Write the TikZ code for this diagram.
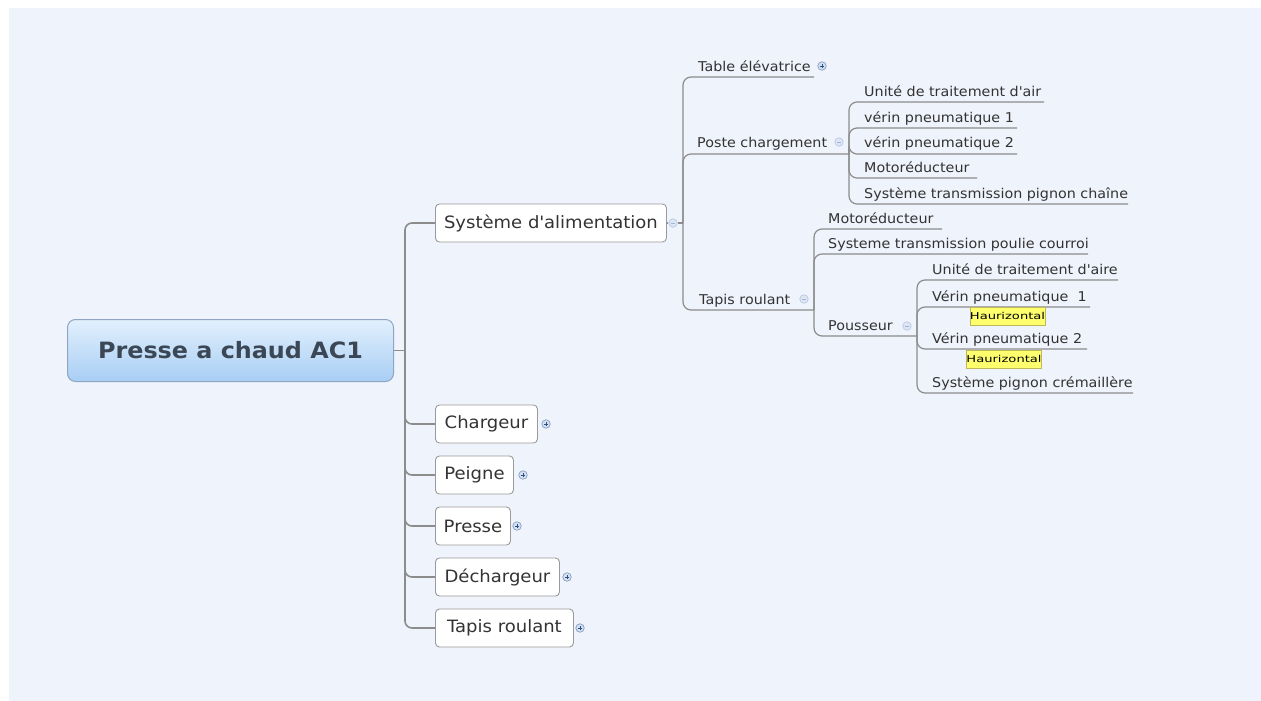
\documentclass[tikz,border=0pt]{standalone}
\usepackage{fontspec}
\setmainfont[FakeStretch=1.06]{DejaVu Sans}
\definecolor{pagebg}{HTML}{EFF3FB}
\definecolor{txt}{HTML}{333333}
\definecolor{roottxt}{HTML}{3C4756}
\definecolor{rootedge}{HTML}{8EA6C2}
\definecolor{roottop}{HTML}{E2F0FD}
\definecolor{rootbot}{HTML}{A8CEF4}
\definecolor{boxedge}{HTML}{9A9A9A}
\definecolor{linegray}{HTML}{8C8C8C}
\definecolor{iconfill}{HTML}{D3E0F2}
\definecolor{iconedge}{HTML}{7D96BA}
\definecolor{iconmark}{HTML}{2F4F7F}
\definecolor{minfill}{HTML}{DCE6F5}
\definecolor{minedge}{HTML}{B4C6E0}
\definecolor{minmark}{HTML}{9FB4D6}
\definecolor{notefill}{HTML}{FFFF6E}
\definecolor{noteedge}{HTML}{BDB85A}
\newcommand{\notetext}[1]{\scalebox{1.3}[1]{#1}}
\begin{document}
\begin{tikzpicture}[x=1pt,y=-1pt,
  rootbox/.style={draw=rootedge, line width=1pt, rounded corners=8pt,
    top color=roottop, bottom color=rootbot, minimum width=326pt, minimum height=62pt,
    font=\fontsize{22.5}{26}\selectfont\bfseries, text=roottxt},
  topic/.style={draw=boxedge, fill=white, line width=0.9pt, rounded corners=4pt,
    minimum height=38pt, inner xsep=6pt, anchor=west,
    font=\fontsize{17}{20}\selectfont, text=txt},
  leaf/.style={anchor=base west, inner sep=0pt, font=\fontsize{13.5}{16}\selectfont, text=txt},
  note/.style={draw=noteedge, fill=notefill, line width=0.6pt, minimum width=75pt,
    minimum height=18pt, inner sep=0pt, font=\fontsize{9.5}{11}\selectfont, text=black},
  trunk/.style={draw=linegray, line width=1.6pt, rounded corners=7pt},
  conn/.style={draw=linegray, line width=1.2pt, rounded corners=8pt},
  plusicon/.style={circle, draw=iconedge, fill=iconfill, line width=0.6pt,
    minimum size=8.5pt, inner sep=0pt,
    path picture={\draw[iconmark, line width=0.8pt]
      ([xshift=-2.2pt]path picture bounding box.center) -- ([xshift=2.2pt]path picture bounding box.center)
      ([yshift=-2.2pt]path picture bounding box.center) -- ([yshift=2.2pt]path picture bounding box.center);}},
  minusicon/.style={circle, draw=minedge, fill=minfill, line width=0.6pt,
    minimum size=8.5pt, inner sep=0pt,
    path picture={\draw[minmark, line width=0.8pt]
      ([xshift=-2.2pt]path picture bounding box.center) -- ([xshift=2.2pt]path picture bounding box.center);}}
]
\useasboundingbox (0,0) rectangle (1261,701);
\fill[white] (0,0) rectangle (1261,701);
\fill[pagebg] (9,8) rectangle (1261,701);

% central topic
\node[rootbox] (root) at (230.5,350.5) {Presse a chaud AC1};
\coordinate (rootJ) at (405,350.5);

% main topics
\node[topic, minimum width=231pt] (sys) at (435,223) {Système d\textquotesingle alimentation};
\node[topic, minimum width=102pt] (charg) at (435,424) {Chargeur};
\node[topic, minimum width=78pt] (peigne) at (435,475) {Peigne};
\node[topic, minimum width=75pt] (presse) at (435,526) {Presse};
\node[topic, minimum width=124pt] (decharg) at (435,577) {Déchargeur};
\node[topic, minimum width=138pt] (tapis) at (435,628) {Tapis roulant};

\draw[trunk] (root.east) -- (rootJ);
\foreach \t in {sys,charg,peigne,presse,decharg,tapis}
  \draw[trunk] (rootJ) |- (\t.west);

% collapse / expand markers of the main topics
\node[minusicon] (sysI) at (673,223) {};
\node[plusicon] (chargI) at (546,424) {};
\node[plusicon] (peigneI) at (523,475) {};
\node[plusicon] (presseI) at (517,526) {};
\node[plusicon] (dechargI) at (567,577) {};
\node[plusicon] (tapisI) at (580,628) {};

% Système d'alimentation subtopics
\coordinate (sysJ) at (683,223);
\draw[conn] (sys.east) -- (sysI.west);
\draw[conn] (sysI.east) -- (sysJ);

\node[leaf] (table) at (698,71) {Table élévatrice};
\coordinate (tableU) at (814,77);
\node[leaf] (poste) at (697,147) {Poste chargement};
\coordinate (posteJ) at (849,154);
\node[leaf] (tapr) at (699,304) {Tapis roulant};
\coordinate (taprJ) at (814,310);

\draw[conn] (sysJ) |- (tableU);
\draw[conn] (sysJ) |- (posteJ);
\draw[conn] (sysJ) |- (taprJ);

\node[plusicon] (tableI) at (822,66) {};
\node[minusicon] (posteI) at (839,142) {};
\node[minusicon] (taprI) at (804,299) {};

% Poste chargement subtopics
\node[leaf] (p1) at (864,96) {Unité de traitement d\textquotesingle air};
\node[leaf] (p2) at (864,122) {vérin pneumatique 1};
\node[leaf] (p3) at (864,147) {vérin pneumatique 2};
\node[leaf] (p4) at (864,172) {Motoréducteur};
\node[leaf] (p5) at (864,198) {Système transmission pignon chaîne};
\coordinate (p1U) at (1044,102);
\coordinate (p2U) at (1017,128);
\coordinate (p3U) at (1017,154);
\coordinate (p4U) at (977,178);
\coordinate (p5U) at (1128,204);
\foreach \u in {p1U,p2U,p3U,p4U,p5U}
  \draw[conn] (posteJ) |- (\u);

% Tapis roulant subtopics
\node[leaf] (t1) at (828,223) {Motoréducteur};
\node[leaf] (t2) at (828,248) {Systeme transmission poulie courroi};
\node[leaf] (t3) at (828,330) {Pousseur};
\coordinate (t1U) at (942,229);
\coordinate (t2U) at (1088,254);
\coordinate (t3J) at (917,336);
\foreach \u in {t1U,t2U,t3J}
  \draw[conn] (taprJ) |- (\u);
\node[minusicon] (t3I) at (907,326) {};

% Pousseur subtopics
\node[leaf] (q1) at (932,274) {Unité de traitement d\textquotesingle aire};
\node[leaf] (q2) at (932,301) {Vérin pneumatique\ \ 1};
\node[leaf] (q3) at (932,343) {Vérin pneumatique 2};
\node[leaf] (q4) at (932,387) {Système pignon crémaillère};
\coordinate (q1U) at (1118,280);
\coordinate (q2U) at (1090,307);
\coordinate (q3U) at (1087,349);
\coordinate (q4U) at (1133,393);
\foreach \u in {q1U,q2U,q3U,q4U}
  \draw[conn] (t3J) |- (\u);

% notes
\node[note] (n1) at (1007.5,316) {\notetext{Haurizontal}};
\node[note] (n2) at (1004,359) {\notetext{Haurizontal}};
\end{tikzpicture}
\end{document}
